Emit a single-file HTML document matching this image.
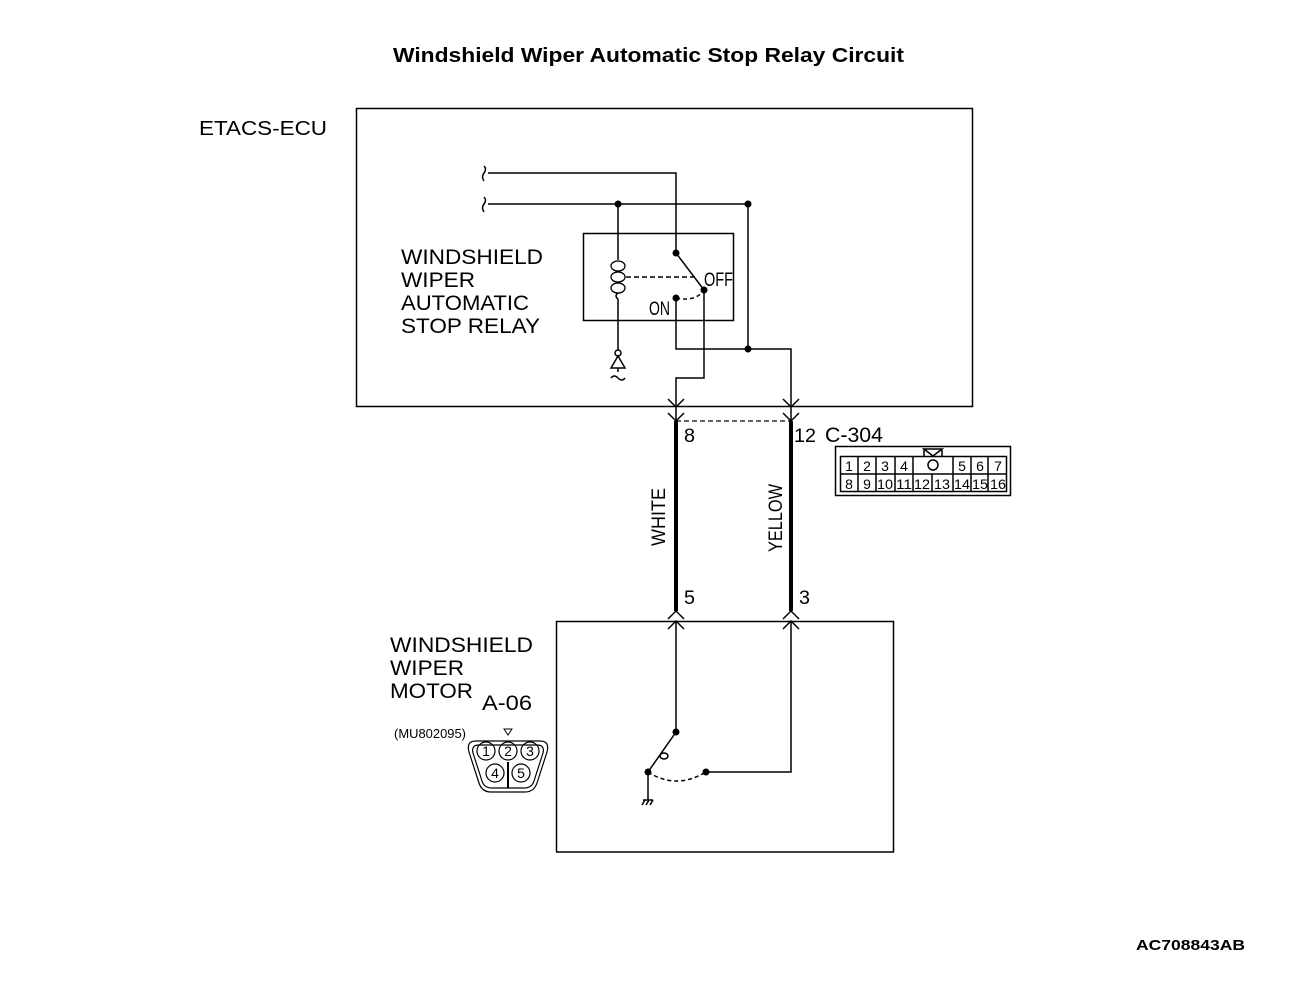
<!DOCTYPE html>
<html><head><meta charset="utf-8"><style>html,body{margin:0;padding:0;background:#fff}svg{display:block}</style></head>
<body>
<svg width="1300" height="981" viewBox="0 0 1300 981" xmlns="http://www.w3.org/2000/svg" font-family="Liberation Sans, sans-serif" fill="none" stroke="#000" stroke-width="1.5">
<g fill="#000" stroke="none">
<text x="393" y="62" font-size="20" font-weight="bold" textLength="511" lengthAdjust="spacingAndGlyphs">Windshield Wiper Automatic Stop Relay Circuit</text>
<text x="199" y="135" font-size="20" textLength="128" lengthAdjust="spacingAndGlyphs">ETACS-ECU</text>
<text x="401" y="264" font-size="21" textLength="142" lengthAdjust="spacingAndGlyphs">WINDSHIELD</text>
<text x="401" y="287" font-size="21" textLength="74" lengthAdjust="spacingAndGlyphs">WIPER</text>
<text x="401" y="310" font-size="21" textLength="128" lengthAdjust="spacingAndGlyphs">AUTOMATIC</text>
<text x="401" y="333" font-size="21" textLength="139" lengthAdjust="spacingAndGlyphs">STOP RELAY</text>
<text x="704" y="286" font-size="19" textLength="29" lengthAdjust="spacingAndGlyphs">OFF</text>
<text x="649" y="315" font-size="19" textLength="21" lengthAdjust="spacingAndGlyphs">ON</text>
<text x="684" y="442" font-size="19" textLength="11" lengthAdjust="spacingAndGlyphs">8</text>
<text x="794" y="442" font-size="19" textLength="22" lengthAdjust="spacingAndGlyphs">12</text>
<text x="825" y="442" font-size="21" textLength="58" lengthAdjust="spacingAndGlyphs">C-304</text>
<text x="684" y="604" font-size="19" textLength="11" lengthAdjust="spacingAndGlyphs">5</text>
<text x="799" y="604" font-size="19" textLength="11" lengthAdjust="spacingAndGlyphs">3</text>
<text transform="translate(665,546) rotate(-90)" font-size="19" textLength="58" lengthAdjust="spacingAndGlyphs">WHITE</text>
<text transform="translate(782,552) rotate(-90)" font-size="19" textLength="68" lengthAdjust="spacingAndGlyphs">YELLOW</text>
<text x="390" y="652" font-size="21" textLength="143" lengthAdjust="spacingAndGlyphs">WINDSHIELD</text>
<text x="390" y="675" font-size="21" textLength="74" lengthAdjust="spacingAndGlyphs">WIPER</text>
<text x="390" y="698" font-size="21" textLength="83" lengthAdjust="spacingAndGlyphs">MOTOR</text>
<text x="482" y="710" font-size="21" textLength="50" lengthAdjust="spacingAndGlyphs">A-06</text>
<text x="394" y="738" font-size="13" textLength="72" lengthAdjust="spacingAndGlyphs">(MU802095)</text>
<text x="1136" y="950" font-size="15" font-weight="bold" textLength="109" lengthAdjust="spacingAndGlyphs">AC708843AB</text>
</g>
<rect x="356.5" y="108.5" width="616" height="298"/>
<rect x="583.5" y="233.5" width="150" height="87"/>
<path d="M488 173 H676 V253"/>
<path d="M488 204 H748 V349"/>
<path d="M484 166 q3 3 0 7 q-3 4 0 8"/>
<path d="M484 197 q3 3 0 7 q-3 4 0 8"/>
<path d="M618 204 V260 M618 299 V350"/>
<g stroke-width="1.3"><ellipse cx="618" cy="266" rx="7" ry="5"/><ellipse cx="618" cy="277" rx="7" ry="5"/><ellipse cx="618" cy="288" rx="7" ry="5"/></g>
<path d="M618 293 q-4 3 0 6"/>
<path d="M626 277 H697" stroke-dasharray="5 3"/>
<path d="M676 253 L704 290"/>
<path d="M676 298 q20 4 28 -8" stroke-dasharray="4 3"/>
<path d="M704 290 V378 H676 V406"/>
<path d="M676 298 V349 H791 V406"/>
<circle cx="618" cy="353" r="3"/>
<path d="M618 356 L611 368 H625 Z M618 368 V372"/>
<path d="M611 378 q3 -4 7 0 q4 4 7 0"/>
<g fill="#000" stroke="none">
<circle cx="618" cy="204" r="3.5"/><circle cx="748" cy="204" r="3.5"/>
<circle cx="676" cy="253" r="3.5"/><circle cx="704" cy="290" r="3.5"/>
<circle cx="676" cy="298" r="3.5"/><circle cx="748" cy="349" r="3.5"/>
<circle cx="676" cy="732" r="3.5"/><circle cx="648" cy="772" r="3.5"/>
<circle cx="706" cy="772" r="3.5"/>
</g>
<path d="M668 399 L676 407 L684 399 M668 413 L676 421 L684 413 M783 399 L791 407 L799 399 M783 413 L791 421 L799 413"/>
<path d="M676 406 V421 M791 406 V421"/>
<path d="M676 421 H791" stroke-dasharray="5 3" stroke-width="1.2"/>
<path d="M676 421 V611 M791 421 V611" stroke-width="4"/>
<path d="M668 619 L676 611 L684 619 M668 629 L676 621 L684 629 M783 619 L791 611 L799 619 M783 629 L791 621 L799 629"/>
<path d="M556.5 852 V621.5 H893.5 V852 H556"/>
<path d="M676 621 V732 L648 772 V800"/>
<path d="M643 800 H653 M642 805 l3 -5 M646 805 l3 -5 M650 805 l3 -5"/>
<ellipse cx="664" cy="756" rx="4" ry="3"/>
<path d="M648 772 q28 18 58 0" stroke-dasharray="4 3"/>
<path d="M706 772 H791 V621"/>
<rect x="835.5" y="446.5" width="175" height="49"/>
<rect x="840.5" y="456.5" width="166" height="35"/>
<path d="M840 474 H1007 M858 457 V491 M876 457 V491 M895 457 V491 M913 457 V491 M953 457 V491 M971 457 V491 M988 457 V491 M932 474 V491"/>
<circle cx="933" cy="465" r="5"/>
<path d="M924 449 H942 L933 456 Z M924 449 V456 M942 449 V456"/>
<g fill="#000" stroke="none" font-size="14" text-anchor="middle">
<text x="849" y="471">1</text><text x="867" y="471">2</text><text x="885" y="471">3</text><text x="904" y="471">4</text>
<text x="962" y="471">5</text><text x="980" y="471">6</text><text x="998" y="471">7</text>
<text x="849" y="489">8</text><text x="867" y="489">9</text><text x="885" y="489" textLength="16" lengthAdjust="spacingAndGlyphs">10</text><text x="904" y="489" textLength="16" lengthAdjust="spacingAndGlyphs">11</text>
<text x="922" y="489" textLength="16" lengthAdjust="spacingAndGlyphs">12</text><text x="942" y="489" textLength="16" lengthAdjust="spacingAndGlyphs">13</text><text x="962" y="489" textLength="16" lengthAdjust="spacingAndGlyphs">14</text><text x="980" y="489" textLength="16" lengthAdjust="spacingAndGlyphs">15</text><text x="998" y="489" textLength="16" lengthAdjust="spacingAndGlyphs">16</text>
</g>
<path d="M476 741 H540 Q550 741 547 752 L537 783 Q534 792 525 792 H491 Q482 792 479 783 L469 752 Q466 741 476 741 Z" stroke-width="1.2"/>
<path d="M479 745 H537 Q545 745 543 753 L534 781 Q532 788 524 788 H492 Q484 788 482 781 L473 753 Q471 745 479 745 Z" stroke-width="1.2"/>
<path d="M504 729 H512 L508 735 Z" stroke-width="1"/>
<path d="M508 762 V788" stroke-width="2"/>
<g stroke-width="1.2"><circle cx="486" cy="751" r="9"/><circle cx="508" cy="751" r="9"/><circle cx="530" cy="751" r="9"/><circle cx="495" cy="773" r="9"/><circle cx="521" cy="773" r="9"/></g>
<g fill="#000" stroke="none" font-size="14" text-anchor="middle">
<text x="486" y="756">1</text><text x="508" y="756">2</text><text x="530" y="756">3</text><text x="495" y="778">4</text><text x="521" y="778">5</text>
</g>
</svg>
</body></html>
